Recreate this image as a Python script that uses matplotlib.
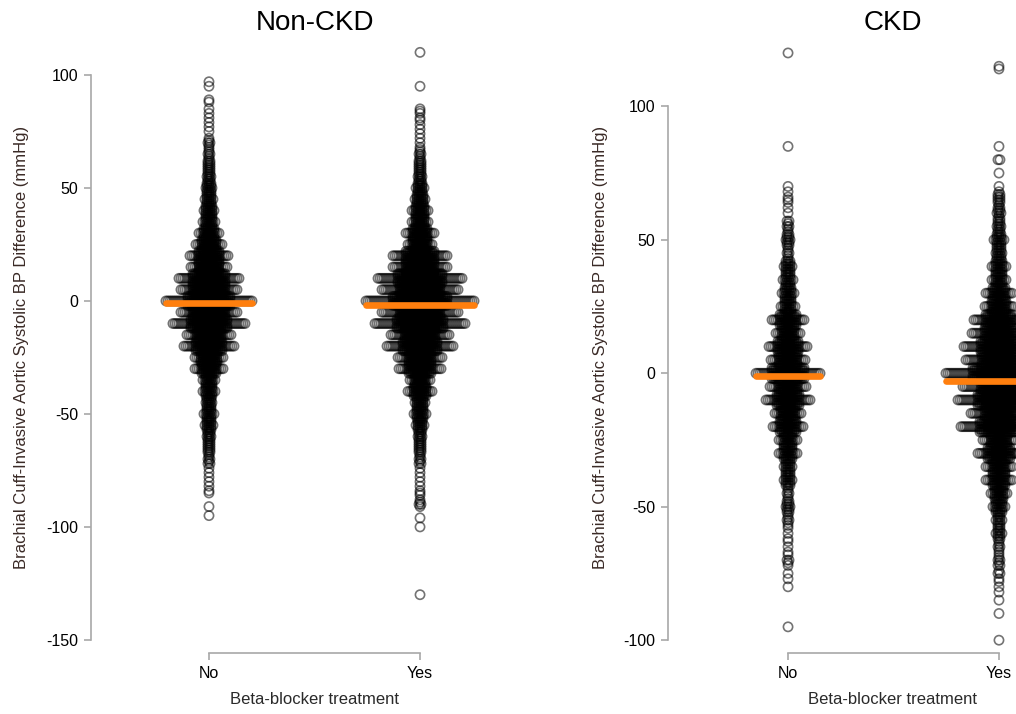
import numpy as np
import matplotlib
matplotlib.use("Agg")
import matplotlib.pyplot as plt

plt.rcParams["font.family"] = ["Liberation Sans", "DejaVu Sans"]
plt.rcParams["axes.unicode_minus"] = False

groups = ["No", "Yes"]
panel_titles = ["Non-CKD", "CKD"]
ylabel = "Brachial Cuff-Invasive Aortic Systolic BP Difference (mmHg)"
xlabel = "Beta-blocker treatment"

# rows of the swarm: value (mmHg), points on that row, points on the
# rows 1-2 mmHg either side, plus the sparse tail points
nonckd_no_vals = [70, 65, 60, 55, 50, 45, 40, 35, 30, 25, 20, 15, 10, 5, 0,
                  -5, -10, -15, -20, -25, -30, -35, -40, -45, -50, -55, -60, -65, -70]
nonckd_no_peak = [2, 2, 2, 3, 4, 5, 6, 7, 11, 14, 20, 19, 31, 29, 44,
                  29, 37, 23, 26, 15, 15, 7, 7, 4, 6, 5, 3, 2, 2]
nonckd_no_fill = [1, 1, 2, 2, 3, 3, 4, 4, 6, 8, 11, 11, 17, 17, 22,
                  17, 19, 13, 14, 9, 8, 4, 4, 3, 3, 3, 2, 2, 1]
nonckd_no_tail = [97, 95, 89, 88, 85, 83, 81, 79, 77, 75,
                  -72, -74, -76, -78, -80, -82, -84, -85, -91, -95]

nonckd_yes_vals = [65, 60, 55, 50, 45, 40, 35, 30, 25, 20, 15, 10, 5, 0,
                   -5, -10, -15, -20, -25, -30, -35, -40, -45, -50, -55, -60, -65, -70]
nonckd_yes_peak = [2, 2, 3, 5, 6, 9, 9, 15, 13, 28, 28, 43, 39, 55,
                   39, 46, 30, 34, 23, 22, 11, 13, 6, 7, 5, 3, 2, 2]
nonckd_yes_fill = [1, 2, 2, 3, 4, 5, 5, 8, 8, 15, 15, 23, 21, 28,
                   21, 24, 16, 18, 12, 12, 6, 7, 4, 4, 3, 2, 2, 1]
nonckd_yes_tail = [110, 95, 85, 84, 83, 81, 80, 78, 76, 74, 72, 70, 68,
                   -72, -74, -76, -78, -80, -82, -84, -85, -86, -88, -89,
                   -90, -90, -91, -96, -100, -130]

ckd_no_vals = [55, 50, 45, 40, 35, 30, 25, 20, 15, 10, 5, 0,
               -5, -10, -15, -20, -25, -30, -35, -40, -45, -50, -55]
ckd_no_peak = [2, 3, 2, 5, 6, 7, 8, 17, 13, 20, 18, 33,
               19, 23, 14, 16, 10, 10, 5, 5, 2, 3, 2]
ckd_no_fill = [1, 2, 1, 3, 3, 4, 4, 9, 7, 11, 10, 17,
               10, 12, 8, 9, 5, 5, 3, 3, 1, 2, 1]
ckd_no_tail = [120, 85, 70, 68, 66, 65, 64, 62, 60, 57,
               -58, -60, -62, -63, -65, -67, -68, -70, -70, -71, -72,
               -75, -77, -80, -95]

ckd_yes_vals = [65, 60, 55, 50, 45, 40, 35, 30, 25, 20, 15, 10, 5, 0,
                -5, -10, -15, -20, -25, -30, -35, -40, -45, -50, -55, -60, -65, -70]
ckd_yes_peak = [2, 2, 3, 6, 4, 8, 8, 14, 15, 26, 28, 36, 34, 54,
                37, 42, 29, 39, 17, 22, 14, 14, 9, 7, 4, 4, 2, 2]
ckd_yes_fill = [1, 1, 2, 3, 3, 4, 4, 7, 8, 14, 15, 19, 18, 27,
                19, 22, 15, 20, 9, 12, 7, 7, 5, 4, 2, 2, 1, 1]
ckd_yes_tail = [115, 114, 85, 80, 80, 75, 70, 68, 67, 66, 64, 62, 61, 60, 58,
                -72, -74, -75, -75, -77, -78, -80, -82, -85, -90, -100]

nonckd_medians = [-1, -2]
ckd_medians = [-1, -3]

panels = [
    [(nonckd_no_vals, nonckd_no_peak, nonckd_no_fill, nonckd_no_tail),
     (nonckd_yes_vals, nonckd_yes_peak, nonckd_yes_fill, nonckd_yes_tail)],
    [(ckd_no_vals, ckd_no_peak, ckd_no_fill, ckd_no_tail),
     (ckd_yes_vals, ckd_yes_peak, ckd_yes_fill, ckd_yes_tail)],
]
medians = [nonckd_medians, ckd_medians]

# layout (figure pixels)
W, H = 1016, 714
DX = 2.0 / 211  # horizontal step between neighbours in a row
AXIS_GREY = "#a8a8a8"
ORANGE = "#ff7f0e"


def row_counts(vals, peak, fill, tail):
    counts = {}
    for v, p, f in zip(vals, peak, fill):
        counts[v] = counts.get(v, 0) + p
        for d in (-2, -1, 1, 2):
            counts[v + d] = counts.get(v + d, 0) + f
    for v in tail:
        counts[v] = counts.get(v, 0) + 1
    return counts


def swarm(pos, counts):
    xs, ys = [], []
    for v, n in counts.items():
        off = np.arange(n) - (n - 1) / 2
        xs.extend(pos + off * DX)
        ys.extend([v] * n)
    return np.array(xs), np.array(ys)


fig = plt.figure(figsize=(W / 100, H / 100), dpi=100)

# axes boxes: left px, width px, ylim, y tick range, xlim
boxes = [
    dict(left=91, width=447, ylim=(-155.8, 119.9), yticks=[-150, -100, -50, 0, 50, 100],
         xlim=(0.441, 2.559), cx=315),
    dict(left=668, width=451, ylim=(-104.8, 128.6), yticks=[-100, -50, 0, 50, 100],
         xlim=(0.431, 2.569), cx=893),
]
top_px, bot_px = 30, 653

for p, box in enumerate(boxes):
    ax = fig.add_axes([box["left"] / W, 1 - bot_px / H,
                       box["width"] / W, (bot_px - top_px) / H])
    for g, (vals, peak, fill, tail) in enumerate(panels[p]):
        counts = row_counts(vals, peak, fill, tail)
        xs, ys = swarm(g + 1, counts)
        ax.scatter(xs, ys, s=44, facecolors="none", edgecolors="black",
                   linewidths=1.2, alpha=0.55, zorder=2, clip_on=False)
        # median bar spans the widest row
        n0 = counts[0]
        half = (n0 - 1) / 2 * DX
        ax.plot([g + 1 - half, g + 1 + half], [medians[p][g]] * 2,
                color=ORANGE, lw=4.8, solid_capstyle="round", zorder=3)

    ax.set_xlim(*box["xlim"])
    ax.set_ylim(*box["ylim"])
    ax.set_xticks([1, 2])
    ax.set_xticklabels(groups)
    ax.set_yticks(box["yticks"])
    for s in ("top", "right"):
        ax.spines[s].set_visible(False)
    ax.spines["left"].set_bounds(box["yticks"][0], box["yticks"][-1])
    ax.spines["bottom"].set_bounds(1, 2)
    for s in ("left", "bottom"):
        ax.spines[s].set_color(AXIS_GREY)
        ax.spines[s].set_linewidth(1.2)
    ax.tick_params(axis="both", colors=AXIS_GREY, labelcolor="black",
                   length=5, width=1.2, labelsize=11.5)
    ax.tick_params(axis="y", pad=4)
    ax.tick_params(axis="x", pad=4)
    ax.patch.set_visible(False)

    fig.text(box["cx"] / W, 1 - 30 / H, panel_titles[p], ha="center",
             va="baseline", fontsize=20)
    fig.text(box["cx"] / W, 1 - 700 / H, xlabel, ha="center", va="center",
             fontsize=12, color="#2a2a2a")
    fig.text((22 if p == 0 else 601) / W, 1 - 347 / H, ylabel, rotation=90,
             ha="center", va="center", fontsize=12, color="#3a2a26")

fig.savefig("out.png", dpi=100)
